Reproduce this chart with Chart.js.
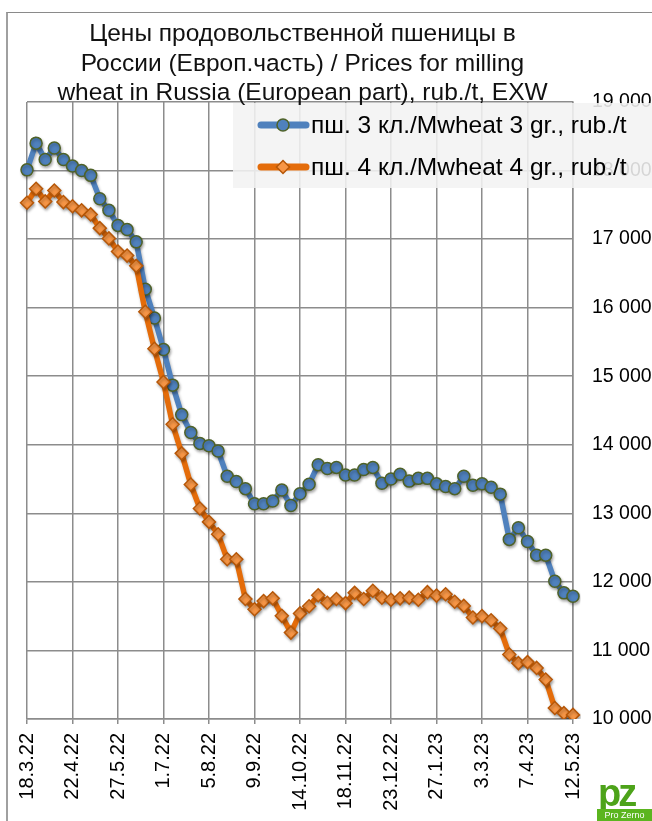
<!DOCTYPE html>
<html lang="ru">
<head>
<meta charset="UTF-8">
<title>Цены продовольственной пшеницы в России</title>
<script src="https://cdn.jsdelivr.net/npm/chart.js"></script>
<style>
  body { margin: 0; background: #fff; font-family: "Liberation Sans", Arial, sans-serif; }
  .wrap { position: relative; width: 652px; height: 821px; overflow: hidden; }
  .frame { position: absolute; left: 6px; top: 12px; width: 700px; height: 900px;
           border-left: 2px solid #a0a0a0; border-top: 1px solid #8a8a8a; }
  #chart { position: absolute; left: 0; top: 0; }
  .title { position: absolute; left: 0; top: 18px; width: 605px; text-align: center;
           font-size: 24.5px; line-height: 29.5px; color: #111; }
  .logo { position: absolute; left: 597px; top: 781px; width: 55px; height: 40px; }
  .logo .pz { position: absolute; left: 1px; top: -9px; font: bold 38px "Liberation Sans", Arial;
              color: #4da31a; letter-spacing: -3px; }
  .logo .pro { position: absolute; left: 0; bottom: 0; width: 55px; height: 12px; background: #5bb51f;
               color: #fff; font: 9px "Liberation Sans", Arial; line-height: 12px; text-align: center; }
</style>
</head>
<body>
<div class="wrap">
  <div class="frame"></div>
  <canvas id="chart" width="652" height="821"></canvas>
  <div class="title">Цены продовольственной пшеницы в<br>России (Европ.часть) / Prices for milling<br>wheat in Russia (European part), rub./t, EXW</div>
  <div class="logo"><span class="pz">pz</span><span class="pro">Pro Zerno</span></div>
</div>

<script>
// weekly dates, every 5th one gets a label and a grid line
const dates = [
  '18.3.22', '25.3.22', '1.4.22', '8.4.22', '15.4.22', '22.4.22', '29.4.22', '6.5.22', '13.5.22', '20.5.22',
  '27.5.22', '3.6.22', '10.6.22', '17.6.22', '24.6.22', '1.7.22', '8.7.22', '15.7.22', '22.7.22', '29.7.22',
  '5.8.22', '12.8.22', '19.8.22', '26.8.22', '2.9.22', '9.9.22', '16.9.22', '23.9.22', '30.9.22', '7.10.22',
  '14.10.22', '21.10.22', '28.10.22', '4.11.22', '11.11.22', '18.11.22', '25.11.22', '2.12.22', '9.12.22', '16.12.22',
  '23.12.22', '30.12.22', '6.1.23', '13.1.23', '20.1.23', '27.1.23', '3.2.23', '10.2.23', '17.2.23', '24.2.23',
  '3.3.23', '10.3.23', '17.3.23', '24.3.23', '31.3.23', '7.4.23', '14.4.23', '21.4.23', '28.4.23', '5.5.23',
  '12.5.23'
];
const labelStep = 5;

const wheat3 = [
  18010, 18400, 18160, 18330, 18160, 18065, 18000, 17930, 17590, 17420,
  17200, 17140, 16960, 16270, 15850, 15390, 14870, 14440, 14180, 14020,
  13985, 13910, 13540, 13465, 13360, 13140, 13140, 13180, 13340, 13115,
  13285, 13425, 13710, 13655, 13670, 13560, 13560, 13640, 13670, 13440,
  13500, 13570, 13470, 13510, 13510, 13430, 13390, 13360, 13540, 13410,
  13430, 13380, 13280, 12620, 12790, 12590, 12390, 12390, 12010, 11840,
  11790
];
const wheat4 = [
  17530, 17735, 17550, 17710, 17540, 17480, 17420, 17360, 17160, 17010,
  16820, 16760, 16610, 15940, 15400, 14915, 14300, 13875, 13420, 13070,
  12875, 12695, 12330, 12330, 11750, 11600, 11720, 11760, 11505, 11260,
  11540, 11645, 11805, 11695, 11750, 11690, 11840, 11750, 11870, 11770,
  11740, 11760, 11770, 11740, 11850, 11800, 11820, 11710, 11650, 11480,
  11500, 11440, 11320, 10940, 10815, 10830, 10745, 10575, 10160, 10085,
  10060
];
const seriesNames = ['пш. 3 кл./Mwheat 3 gr., rub./t', 'пш. 4 кл./Mwheat 4 gr., rub./t'];
const yMin = 10000, yMax = 19000, yStep = 1000;

const gridColor = '#8c8c8c';
Chart.defaults.font.family = '"Liberation Sans", Arial, sans-serif';
Chart.defaults.color = '#000';

function fmt(v) {
  return String(v).replace(/\B(?=(\d{3})+(?!\d))/g, ' ');
}

// soft shadow under lines and markers
const shadowPlugin = {
  id: 'shadow',
  beforeDatasetsDraw(chart) {
    const ctx = chart.ctx;
    ctx.save();
    ctx.shadowColor = 'rgba(0,0,0,0.3)';
    ctx.shadowBlur = 3;
    ctx.shadowOffsetX = 1;
    ctx.shadowOffsetY = 2;
  },
  afterDatasetsDraw(chart) {
    chart.ctx.restore();
  }
};

// legend box that sits over the top of the plot
const boxLegend = {
  id: 'boxLegend',
  afterDraw(chart) {
    const ctx = chart.ctx;
    ctx.save();
    ctx.fillStyle = 'rgba(242,242,242,0.88)';
    ctx.fillRect(233, 103, 419, 85);
    const rows = [125, 167];
    chart.data.datasets.forEach((ds, i) => {
      const y = rows[i];
      ctx.strokeStyle = ds.borderColor;
      ctx.lineWidth = 7;
      ctx.lineCap = 'round';
      ctx.beginPath();
      ctx.moveTo(261, y);
      ctx.lineTo(306, y);
      ctx.stroke();
      ctx.fillStyle = ds.pointBackgroundColor;
      ctx.strokeStyle = ds.pointBorderColor;
      ctx.lineWidth = ds.pointBorderWidth;
      Chart.helpers.drawPoint(ctx, {
        pointStyle: ds.pointStyle, radius: ds.pointRadius, rotation: 0, borderWidth: ds.pointBorderWidth
      }, 283, y);
      ctx.fillStyle = '#000';
      ctx.font = '24.5px "Liberation Sans", Arial, sans-serif';
      ctx.textAlign = 'left';
      ctx.textBaseline = 'middle';
      ctx.fillText(ds.label, 311, y + 1);
    });
    ctx.restore();
  }
};

new Chart(document.getElementById('chart'), {
  type: 'line',
  data: {
    labels: dates,
    datasets: [
      {
        label: seriesNames[0],
        data: wheat3,
        borderColor: '#4f81bd',
        borderWidth: 5.5,
        pointStyle: 'circle',
        pointRadius: 6,
        pointBackgroundColor: '#4f81bd',
        pointBorderColor: '#4f6228',
        pointBorderWidth: 1.5,
        tension: 0,
        order: 2
      },
      {
        label: seriesNames[1],
        data: wheat4,
        borderColor: '#e46c0a',
        borderWidth: 5.5,
        pointStyle: 'rectRot',
        pointRadius: 6.5,
        pointBackgroundColor: '#f79646',
        pointBorderColor: '#b65708',
        pointBorderWidth: 1.5,
        tension: 0,
        order: 1
      }
    ]
  },
  options: {
    responsive: false,
    animation: false,
    events: [],
    layout: { padding: { top: 102, left: 27, right: 0, bottom: 0 } },
    plugins: {
      legend: { display: false },
      title: { display: false },
      tooltip: { enabled: false }
    },
    scales: {
      x: {
        type: 'category',
        offset: false,
        grid: {
          color: c => (c.index % labelStep === 0 ? gridColor : 'rgba(0,0,0,0)'),
          lineWidth: 1.5,
          tickLength: 5
        },
        border: { color: gridColor, width: 1.5 },
        ticks: {
          autoSkip: false,
          minRotation: 90,
          maxRotation: 90,
          padding: 9,
          font: { size: 20 },
          color: '#000',
          callback: (v, i) => (i % labelStep === 0 ? dates[i] : '')
        },
        afterFit: s => { s.height = 102; }
      },
      y: {
        position: 'right',
        min: yMin,
        max: yMax,
        grid: { color: gridColor, lineWidth: 1.5, drawTicks: false },
        border: { color: gridColor, width: 1.5 },
        ticks: {
          stepSize: yStep,
          padding: 19,
          font: { size: 19.5 },
          color: '#000',
          callback: v => fmt(v)
        },
        afterFit: s => { s.width = 79; }
      }
    }
  },
  plugins: [shadowPlugin, boxLegend]
});
</script>
</body>
</html>
